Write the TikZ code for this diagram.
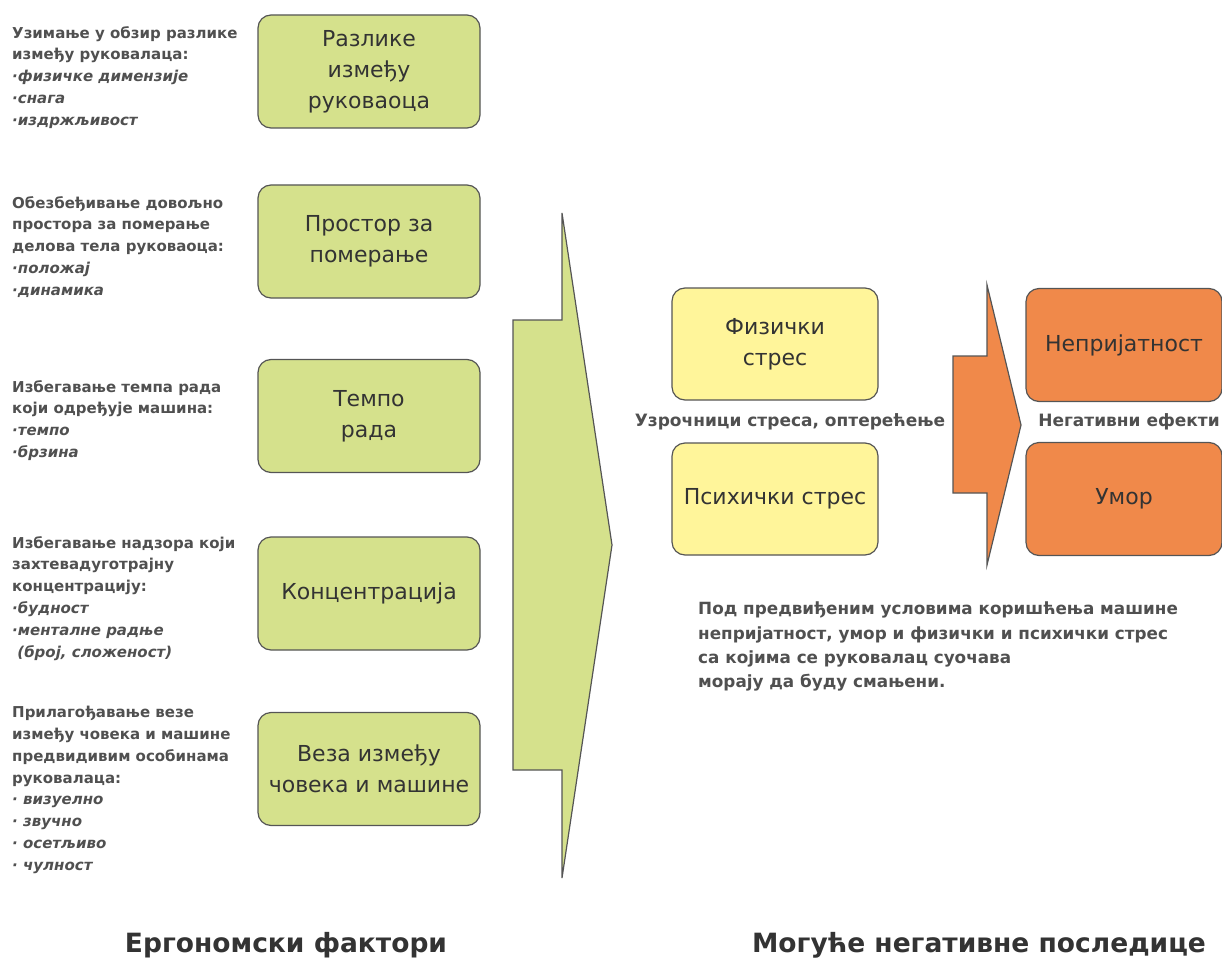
\documentclass[tikz,border=0pt]{standalone}
\usepackage{fontspec}
\setmainfont{DejaVu Sans}
\definecolor{gfill}{HTML}{D5E18C}
\definecolor{yfill}{HTML}{FFF59A}
\definecolor{ofill}{HTML}{F0894A}
\definecolor{bline}{HTML}{555555}
\definecolor{txt}{HTML}{333333}
\definecolor{ltxt}{HTML}{505050}
\begin{document}
\begin{tikzpicture}[x=1pt,y=-1pt,
  box/.style={draw=bline, line width=1.2pt, rounded corners=13pt, align=center, text=txt,
    font=\fontsize{22}{31}\selectfont, inner sep=0pt},
  gbox/.style={box, fill=gfill, minimum width=222pt, minimum height=113pt},
  ybox/.style={box, fill=yfill, minimum width=206pt, minimum height=112pt},
  obox/.style={box, fill=ofill, minimum width=196pt, minimum height=113pt},
  note/.style={anchor=north west, align=left, inner sep=0pt, text=ltxt,
    font=\bfseries\fontsize{15}{21.8}\selectfont},
  lbl/.style={text=ltxt, inner sep=0pt, font=\bfseries\fontsize{17}{20}\selectfont},
  title/.style={text=txt, inner sep=0pt, font=\bfseries\fontsize{26.5}{30}\selectfont},
  bigarrow/.style={draw=bline, line width=1.2pt}
]
\useasboundingbox (0,0) rectangle (1222,968);

% left notes
\node[note] (n1) at (12,26) {Узимање у обзир разлике\\између руковалаца:\\\textit{·физичке димензије}\\\textit{·снага}\\\textit{·издржљивост}};
\node[note] (n2) at (12,196) {Обезбеђивање довољно\\простора за померање\\делова тела руковаоца:\\\textit{·положај}\\\textit{·динамика}};
\node[note] (n3) at (12,380) {Избегавање темпа рада\\који одређује машина:\\\textit{·темпо}\\\textit{·брзина}};
\node[note] (n4) at (12,536) {Избегавање надзора који\\захтевадуготрајну\\концентрацију:\\\textit{·будност}\\\textit{·менталне радње}\\\textit{\ (број, сложеност)}};
\node[note] (n5) at (12,706) {Прилагођавање везе\\између човека и машине\\предвидивим особинама\\руковалаца:\\\textit{· визуелно}\\\textit{· звучно}\\\textit{· осетљиво}\\\textit{· чулност}};

% green boxes
\node[gbox] (b1) at (369,71.5) {Разлике\\између\\руковаоца};
\node[gbox] (b2) at (369,241.5) {Простор за\\померање};
\node[gbox] (b3) at (369,416) {Темпо\\рада};
\node[gbox] (b4) at (369,593.5) {Концентрација};
\node[gbox] (b5) at (369,769) {Веза између\\човека и машине};

% big green arrow
\draw[bigarrow, fill=gfill] (513,320) -- (562,320) -- (562,213) -- (612,545) -- (562,878) -- (562,770) -- (513,770) -- cycle;

% yellow boxes
\node[ybox] (y1) at (775,344) {Физички\\стрес};
\node[ybox] (y2) at (775,499) {Психички стрес};
\node[lbl] (l1) at (790,422) {Узрочници стреса, оптерећење};

% orange arrow
\draw[bigarrow, fill=ofill] (953,356) -- (987,356) -- (987,285) -- (1021,425) -- (987,565) -- (987,493) -- (953,493) -- cycle;

% orange boxes
\node[obox] (o1) at (1124,345) {Непријатност};
\node[obox] (o2) at (1124,499) {Умор};
\node[lbl] (l2) at (1129,422) {Негативни ефекти};

% paragraph
\node[note, font=\bfseries\fontsize{16.8}{24.3}\selectfont] (p) at (698,602) {Под предвиђеним условима коришћења машине\\непријатност, умор и физички и психички стрес\\са којима се руковалац суочава\\морају да буду смањени.};

% titles
\node[title] (t1) at (286,945) {Ергономски фактори};
\node[title] (t2) at (979,945) {Могуће негативне последице};
\end{tikzpicture}
\end{document}
